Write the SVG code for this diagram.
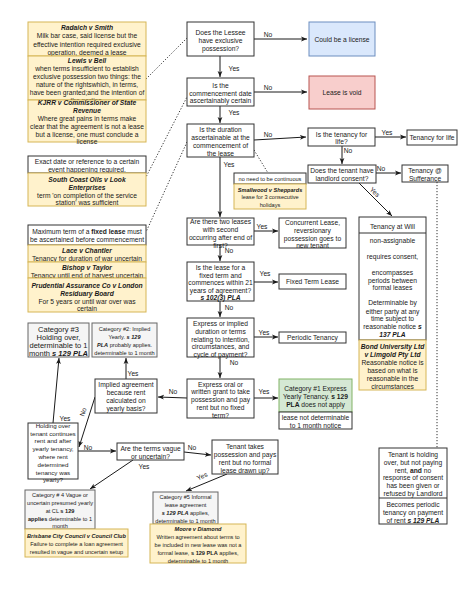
<svg xmlns="http://www.w3.org/2000/svg" width="474" height="613" viewBox="0 0 474 613">
<defs>
<marker id="a" viewBox="0 0 10 10" refX="10" refY="5" markerWidth="6" markerHeight="6" markerUnits="userSpaceOnUse" orient="auto"><path d="M0,1 L10,5 L0,9 L2.5,5 z" fill="#1a1a1a"/></marker>
<style>
.t{font-family:"Liberation Sans",Arial,sans-serif;font-size:6.7px;fill:#1a1a1a;text-anchor:middle;dominant-baseline:central}
.s{font-size:5.6px}
.m{font-size:6.2px}
.l{font-size:7.5px}
.b{font-weight:bold}
.bi{font-weight:bold;font-style:italic}
.box{fill:#fff;stroke:#333;stroke-width:1}
.yel{fill:#fff2cc;stroke:#d6b656;stroke-width:1}
.gry{fill:#f5f5f5;stroke:#666;stroke-width:1}
.grn{fill:#d5e8d4;stroke:#82b366;stroke-width:1}
.blu{fill:#dae8fc;stroke:#6c8ebf;stroke-width:1}
.red{fill:#f8cecc;stroke:#b85450;stroke-width:1}
.c{stroke:#1a1a1a;fill:none;stroke-width:1;marker-end:url(#a)}
.d{stroke:#333;fill:none;stroke-width:1;stroke-dasharray:1.2 1.8}
</style>
</defs>
<rect width="474" height="613" fill="#fff"/>

<g id="connectors">
<path class="c" d="M254,39 L307,39"/>
<path class="c" d="M220,56 L220,77"/>
<path class="c" d="M254,92 L307,92"/>
<path class="c" d="M220,106 L220,123"/>
<path class="c" d="M254,140 L306,137"/>
<path class="c" d="M375,137 L406,137"/>
<path class="c" d="M342,146 L342,164"/>
<path class="c" d="M376,173 L401,173"/>
<path class="c" d="M359,183 L392,216"/>
<path class="d" d="M437,182 L437,448"/>
<path class="c" d="M220,157 L220,217"/>
<path class="d" d="M254,150 L268,173"/>
<path class="c" d="M254,231 L278,231"/>
<path class="c" d="M220,245 L220,261"/>
<path class="c" d="M254,282 L278,282"/>
<path class="c" d="M220,301 L220,317"/>
<path class="c" d="M254,337 L278,337"/>
<path class="c" d="M220,357 L220,378"/>
<path class="c" d="M254,398 L278,398"/>
<path class="c" d="M187,398 L158,397"/>
<path class="c" d="M126,379 L126,358"/>
<path class="c" d="M95,397 L79,447"/>
<path class="c" d="M53,423 L59,358"/>
<path class="c" d="M78,451 L116,451"/>
<path class="c" d="M184,452 L211,455"/>
<path class="c" d="M133,460 L90,489"/>
<path class="c" d="M227,474 L186,491"/>
<path class="d" d="M146,79 L187,38"/>
<path class="d" d="M188,95 L146,177"/>
<path class="d" d="M187,142 L146,232"/>
<text class="t" x="268" y="34">No</text>
<text class="t" x="234" y="68">Yes</text>
<text class="t" x="268" y="87">No</text>
<text class="t" x="234" y="112">Yes</text>
<text class="t" x="268" y="134">No</text>
<text class="t" x="387" y="132">Yes</text>
<text class="t" x="348" y="150">No</text>
<text class="t" x="381" y="168">No</text>
<text class="t" x="375" y="192" transform="rotate(45 375 192)">Yes</text>
<text class="t" x="229" y="164">Yes</text>
<text class="t" x="262" y="226">Yes</text>
<text class="t" x="229" y="250">No</text>
<text class="t" x="265" y="273">Yes</text>
<text class="t" x="229" y="307">No</text>
<text class="t" x="264" y="332">Yes</text>
<text class="t" x="234" y="362">No</text>
<text class="t" x="264" y="391">Yes</text>
<text class="t" x="173" y="391">No</text>
<text class="t" x="133" y="373">Yes</text>
<text class="t" x="83" y="412" transform="rotate(-72 83 412)">No</text>
<text class="t" x="65" y="418">Yes</text>
<text class="t" x="88" y="447">No</text>
<text class="t" x="192" y="447">No</text>
<text class="t" x="144" y="466">Yes</text>
<text class="t" x="202" y="476" transform="rotate(-25 202 476)">Yes</text>
</g>

<g id="radaich">
<rect class="yel" x="28" y="22" width="118" height="34"/>
<text class="t"><tspan class="bi" x="87" y="27">Radaich v Smith</tspan><tspan x="87" y="35">Milk bar case, said license but the</tspan><tspan x="87" y="43.5">effective intention required exclusive</tspan><tspan x="87" y="52">operation, deemed a lease</tspan></text>
</g>
<g id="lewis">
<rect class="yel" x="28" y="56" width="118" height="44"/>
<text class="t"><tspan class="bi" x="87" y="59.5">Lewis v Bell</tspan><tspan x="87" y="67.5">when terms insufficient to establish</tspan><tspan x="87" y="75.5">exclusive possession two things: the</tspan><tspan x="87" y="83.5">nature of the rightswhich, in terms,</tspan><tspan x="87" y="91.5">have been granted;and the intention of</tspan><tspan x="87" y="99.5">the parties.</tspan></text>
</g>
<g id="kjrr">
<rect class="yel" x="28" y="100" width="118" height="42"/>
<text class="t"><tspan class="bi" x="87" y="101.5">KJRR v Commissioner of State</tspan><tspan class="bi" x="87" y="109.5">Revenue</tspan><tspan x="87" y="117.5">Where great pains in terms make</tspan><tspan x="87" y="125.5">clear that the agreement is not a lease</tspan><tspan x="87" y="133.5">but a license, one must conclude a</tspan><tspan x="87" y="141">license</tspan></text>
</g>
<g id="exactdate">
<rect class="box" x="28" y="156" width="118" height="17"/>
<text class="t"><tspan x="87" y="161">Exact date or reference to a certain</tspan><tspan x="87" y="168.5">event happening required.</tspan></text>
</g>
<g id="southcoast">
<rect class="yel" x="28" y="173" width="118" height="33"/>
<text class="t"><tspan class="bi" x="87" y="178.5">South Coast Oils v Look</tspan><tspan class="bi" x="87" y="186.5">Enterprises</tspan><tspan x="87" y="194.5">term 'on completion of the service</tspan><tspan x="87" y="202">station' was sufficient</tspan></text>
</g>
<g id="maxterm">
<rect class="box" x="28" y="225" width="118" height="20"/>
<text class="t"><tspan x="87" y="231">Maximum term of a <tspan class="b">fixed lease</tspan> must</tspan><tspan x="87" y="238.5">be ascertained before commencement</tspan></text>
</g>
<g id="lace">
<rect class="yel" x="28" y="245" width="118" height="17"/>
<text class="t"><tspan class="bi" x="87" y="250">Lace v Chantler</tspan><tspan x="87" y="258">Tenancy for duration of war uncertain</tspan></text>
</g>
<g id="bishop">
<rect class="yel" x="28" y="262" width="118" height="16"/>
<text class="t"><tspan class="bi" x="87" y="267">Bishop v Taylor</tspan><tspan x="87" y="275">Tenancy until end of harvest uncertain</tspan></text>
</g>
<g id="prudential">
<rect class="yel" x="28" y="278" width="118" height="34"/>
<text class="t"><tspan class="bi" x="87" y="285">Prudential Assurance Co v London</tspan><tspan class="bi" x="87" y="293">Residuary Board</tspan><tspan x="87" y="300.5">For 5 years or until war over was</tspan><tspan x="87" y="308">certain</tspan></text>
</g>

<g id="cat3">
<rect class="gry" x="28" y="323" width="61" height="34"/>
<text class="t l"><tspan x="58.5" y="329">Category #3</tspan><tspan x="58.5" y="337">Holding over,</tspan><tspan x="58.5" y="345">determinable to 1</tspan><tspan x="58.5" y="353">month <tspan class="bi">s 129 PLA</tspan></tspan></text>
</g>
<g id="cat2">
<rect class="gry" x="92" y="323" width="65" height="34"/>
<text class="t s"><tspan x="124.5" y="329">Category #2: Implied</tspan><tspan x="124.5" y="337">Yearly. <tspan class="bi">s 129</tspan></tspan><tspan x="124.5" y="345"><tspan class="bi">PLA</tspan> probably applies.</tspan><tspan x="124.5" y="352.5">determinable to 1 month</tspan></text>
</g>
<g id="implied">
<rect class="box" x="95" y="379" width="62" height="34"/>
<text class="t"><tspan x="126" y="384">Implied agreement</tspan><tspan x="126" y="392">because rent</tspan><tspan x="126" y="400">calculated on</tspan><tspan x="126" y="408">yearly basis?</tspan></text>
</g>
<g id="holdingover">
<rect class="box" x="28" y="423" width="50" height="56"/>
<text class="t m"><tspan x="53" y="425">Holding over</tspan><tspan x="53" y="432.5">tenant continues</tspan><tspan x="53" y="440">rent and after</tspan><tspan x="53" y="448">yearly tenancy,</tspan><tspan x="53" y="455.5">where rent</tspan><tspan x="53" y="464">determined</tspan><tspan x="53" y="472">tenancy was</tspan><tspan x="53" y="479">yearly?</tspan></text>
</g>
<g id="vague">
<rect class="box" x="117" y="443" width="67" height="17"/>
<text class="t"><tspan x="150.5" y="448">Are the terms vague</tspan><tspan x="150.5" y="456">or uncertain?</tspan></text>
</g>
<g id="tenanttakes">
<rect class="box" x="212" y="440" width="66" height="34"/>
<text class="t"><tspan x="245" y="446">Tenant takes</tspan><tspan x="245" y="454">possession and pays</tspan><tspan x="245" y="462">rent but no formal</tspan><tspan x="245" y="470">lease drawn up?</tspan></text>
</g>
<g id="cat4">
<rect class="gry" x="25" y="490" width="70" height="39"/>
<text class="t s"><tspan x="60" y="495">Category # 4 Vague or</tspan><tspan x="60" y="503">uncertain presumed yearly</tspan><tspan x="60" y="511">at CL <tspan class="b">s 129</tspan></tspan><tspan x="60" y="519"><tspan class="b">applies</tspan>  determinable to 1</tspan><tspan x="60" y="526">month</tspan></text>
</g>
<g id="brisbane">
<rect class="yel" x="25" y="529" width="103" height="28"/>
<text class="t s"><tspan class="bi" x="76.5" y="536">Brisbane City Council v Council Club</tspan><tspan x="76.5" y="544">Failure to complete a loan agreement</tspan><tspan x="76.5" y="552">resulted in vague and uncertain setup</tspan></text>
</g>
<g id="cat5">
<rect class="gry" x="153" y="492" width="65" height="32"/>
<text class="t s"><tspan x="185.5" y="497">Category #5 Informal</tspan><tspan x="185.5" y="505">lease agreement</tspan><tspan x="185.5" y="513"><tspan class="bi">s 129 PLA</tspan> applies,</tspan><tspan x="185.5" y="521">determinable to 1 month</tspan></text>
</g>
<g id="moore">
<rect class="yel" x="150" y="524" width="96" height="39"/>
<text class="t s"><tspan class="bi" x="198" y="529">Moore v Diamond</tspan><tspan x="198" y="537">Written agreement about terms to</tspan><tspan x="198" y="545">be included in new lease was not a</tspan><tspan x="198" y="553">formal lease, <tspan class="b">s 129 PLA</tspan> applies,</tspan><tspan x="198" y="560.5">determinable to 1 month</tspan></text>
</g>

<g id="exclusive">
<rect class="box" x="187" y="22" width="67" height="34"/>
<text class="t"><tspan x="220.5" y="32">Does the Lessee</tspan><tspan x="220.5" y="40">have exclusive</tspan><tspan x="220.5" y="48">possession?</tspan></text>
</g>
<g id="commencement">
<rect class="box" x="187" y="78" width="67" height="28"/>
<text class="t"><tspan x="220.5" y="85">Is the</tspan><tspan x="220.5" y="92.5">commencement date</tspan><tspan x="220.5" y="100">ascertainably certain</tspan></text>
</g>
<g id="duration">
<rect class="box" x="187" y="124" width="67" height="33"/>
<text class="t"><tspan x="220.5" y="129">Is the duration</tspan><tspan x="220.5" y="137">ascertainable at the</tspan><tspan x="220.5" y="145">commencement of</tspan><tspan x="220.5" y="153">the lease</tspan></text>
</g>
<g id="twoleases">
<rect class="box" x="187" y="218" width="67" height="27"/>
<text class="t"><tspan x="220.5" y="221">Are there two leases</tspan><tspan x="220.5" y="229">with second</tspan><tspan x="220.5" y="237">occurring after end of</tspan><tspan x="220.5" y="244.5">first?</tspan></text>
</g>
<g id="fixedterm">
<rect class="box" x="187" y="262" width="67" height="39"/>
<text class="t"><tspan x="220.5" y="267">Is the lease for a</tspan><tspan x="220.5" y="274.5">fixed term and</tspan><tspan x="220.5" y="282">commences within 21</tspan><tspan x="220.5" y="289.5">years of agreement?</tspan><tspan class="bi" x="220.5" y="297">s 102(3) PLA</tspan></text>
</g>
<g id="expressimplied">
<rect class="box" x="187" y="318" width="67" height="39"/>
<text class="t"><tspan x="220.5" y="323">Express or implied</tspan><tspan x="220.5" y="331">duration or terms</tspan><tspan x="220.5" y="338.5">relating to intention,</tspan><tspan x="220.5" y="346">circumstances, and</tspan><tspan x="220.5" y="354">cycle of payment?</tspan></text>
</g>
<g id="expressoral">
<rect class="box" x="187" y="379" width="67" height="39"/>
<text class="t"><tspan x="220.5" y="383.5">Express oral or</tspan><tspan x="220.5" y="391">written grant to take</tspan><tspan x="220.5" y="399">possession and pay</tspan><tspan x="220.5" y="407">rent but no fixed</tspan><tspan x="220.5" y="415">term?</tspan></text>
</g>

<g id="license">
<rect class="blu" x="309" y="22" width="66" height="34"/>
<text class="t" x="342" y="39">Could be a license</text>
</g>
<g id="void">
<rect class="red" x="309" y="76" width="66" height="33"/>
<text class="t" x="342" y="92.5">Lease is void</text>
</g>
<g id="forlife">
<rect class="box" x="308" y="128" width="67" height="18"/>
<text class="t"><tspan x="341.5" y="134">Is the tenancy for</tspan><tspan x="341.5" y="141">life?</tspan></text>
</g>
<g id="tenancylife">
<rect class="box" x="407" y="130" width="50" height="15"/>
<text class="t" x="432" y="137.5">Tenancy for life</text>
</g>
<g id="consent">
<rect class="box" x="308" y="165" width="68" height="18"/>
<text class="t"><tspan x="342" y="169.5">Does the tenant have</tspan><tspan x="342" y="177.5">landlord consent?</tspan></text>
</g>
<g id="sufferance">
<rect class="box" x="402" y="165" width="46" height="17"/>
<text class="t"><tspan x="425" y="170">Tenancy @</tspan><tspan x="425" y="178">Sufferance</tspan></text>
</g>
<g id="noneed">
<rect class="box" x="234" y="173" width="72" height="11"/>
<text class="t s" x="270" y="179">no need to be continuous</text>
</g>
<g id="smallwood">
<rect class="yel" x="234" y="184" width="72" height="25"/>
<text class="t s"><tspan class="bi" x="270" y="189.5">Smallwood v Sheppards</tspan><tspan x="270" y="197">lease for 3 consecutive</tspan><tspan x="270" y="205">holidays</tspan></text>
</g>
<g id="concurrent">
<rect class="box" x="279" y="218" width="67" height="30"/>
<text class="t"><tspan x="312.5" y="222">Concurrent Lease,</tspan><tspan x="312.5" y="230">reversionary</tspan><tspan x="312.5" y="238">possession goes to</tspan><tspan x="312.5" y="245">new tenant</tspan></text>
</g>
<g id="fixedlease">
<rect class="box" x="279" y="274" width="67" height="15"/>
<text class="t" x="312.5" y="281.5">Fixed Term Lease</text>
</g>
<g id="periodic">
<rect class="box" x="279" y="332" width="67" height="11"/>
<text class="t" x="312.5" y="337.5">Periodic Tenancy</text>
</g>
<g id="cat1">
<rect class="grn" x="279" y="379" width="73" height="33"/>
<text class="t"><tspan x="315.5" y="388">Category #1 Express</tspan><tspan x="315.5" y="396">Yearly Tenancy. <tspan class="b">s 129</tspan></tspan><tspan x="315.5" y="404"><tspan class="b">PLA</tspan> does not apply</tspan></text>
<rect class="box" x="279" y="412" width="73" height="17"/>
<text class="t"><tspan x="315.5" y="417">lease not determinable</tspan><tspan x="315.5" y="425">to 1 month notice</tspan></text>
</g>
<g id="atwill">
<rect class="box" x="359" y="217" width="67" height="123"/>
<line x1="359" y1="233" x2="426" y2="233" stroke="#333" stroke-width="1"/>
<text class="t" x="392.5" y="226">Tenancy at Will</text>
<text class="t"><tspan x="392.5" y="240">non-assignable</tspan><tspan x="392.5" y="256">requires consent,</tspan><tspan x="392.5" y="272">encompasses</tspan><tspan x="392.5" y="279.5">periods between</tspan><tspan x="392.5" y="287">formal leases</tspan><tspan x="392.5" y="302">Determinable by</tspan><tspan x="392.5" y="310.5">either party at any</tspan><tspan x="392.5" y="318">time subject to</tspan><tspan x="392.5" y="326">reasonable notice <tspan class="bi">s</tspan></tspan><tspan class="bi" x="392.5" y="334">137 PLA</tspan></text>
</g>
<g id="bond">
<rect class="yel" x="359" y="340" width="67" height="50"/>
<text class="t"><tspan class="bi" x="392.5" y="346">Bond University Ltd</tspan><tspan class="bi" x="392.5" y="354">v Limgold Pty Ltd</tspan><tspan x="392.5" y="362">Reasonable notice is</tspan><tspan x="392.5" y="370">based on what is</tspan><tspan x="392.5" y="378">reasonable in the</tspan><tspan x="392.5" y="385.5">circumstances</tspan></text>
</g>
<g id="holdingnotpaying">
<rect class="box" x="379" y="448" width="68" height="76"/>
<line x1="379" y1="498" x2="447" y2="498" stroke="#333" stroke-width="1"/>
<text class="t"><tspan x="413" y="454">Tenant is holding</tspan><tspan x="413" y="462">over, but not paying</tspan><tspan x="413" y="469.5">rent, <tspan class="b">and</tspan> no</tspan><tspan x="413" y="477">response of consent</tspan><tspan x="413" y="485">has been given or</tspan><tspan x="413" y="493">refused by Landlord</tspan><tspan x="413" y="504">Becomes periodic</tspan><tspan x="413" y="512">tenancy on payment</tspan><tspan x="413" y="520">of rent <tspan class="bi">s 129 PLA</tspan></tspan></text>
</g>
</svg>
